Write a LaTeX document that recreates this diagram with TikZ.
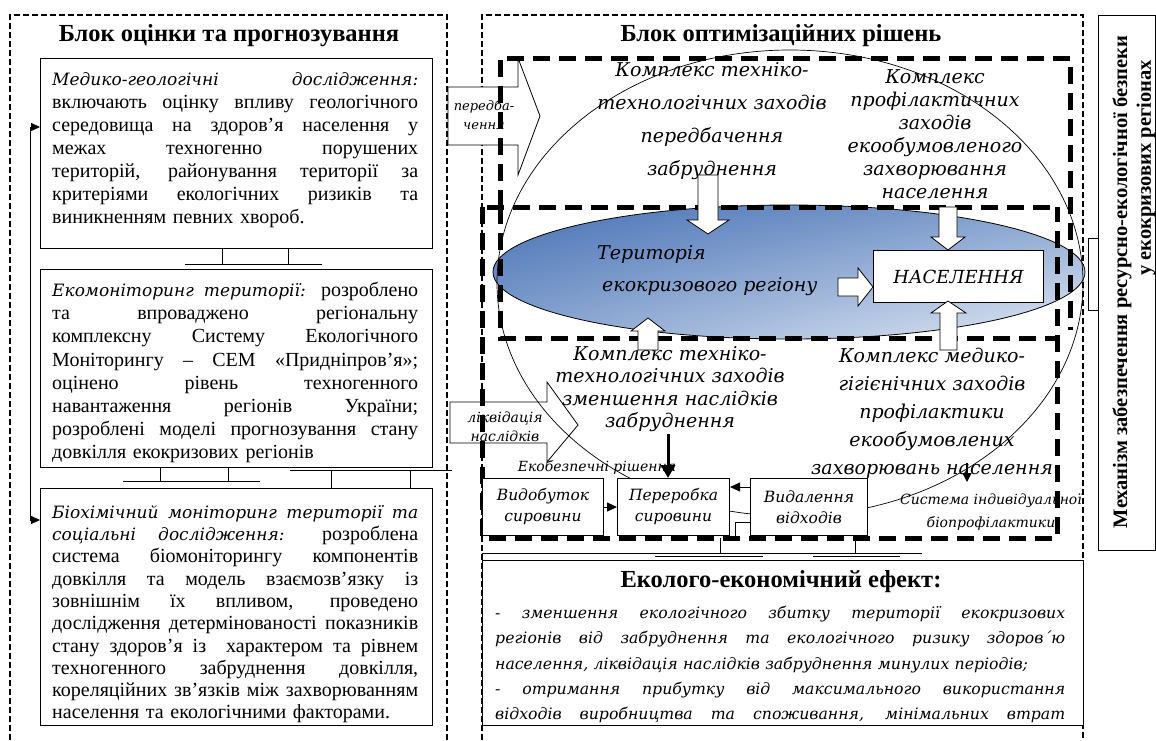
\documentclass[tikz,border=0pt]{standalone}
\usepackage{fontspec}
\setmainfont{Liberation Serif}
\newfontfamily\dvi{DejaVu Serif}
\usetikzlibrary{arrows.meta,shadings}
\definecolor{bdark}{RGB}{70,112,180}
\definecolor{bmid}{RGB}{135,164,208}
\definecolor{blight}{RGB}{228,234,245}
\newcommand\fs[2]{\fontsize{#1}{#2}\selectfont}
\newcommand\jline[2]{{\spaceskip=0pt\xspaceskip=0pt\makebox[#1][s]{#2}}}
\newcommand\myit[1]{{\dvi\itshape\fontsize{17}{23}\selectfont #1}}
\begin{document}
\begin{tikzpicture}[x=1pt,y=-1pt,
  fdash/.style={line width=1.5pt,dash pattern=on 6pt off 3pt},
  hdash/.style={line width=5pt,dash pattern=on 17pt off 9pt},
  sbox/.style={draw,line width=1pt,fill=white,inner sep=0pt,anchor=north west},
  btext/.style={anchor=north west,inner sep=0pt,text width=366pt,align=left},
  ctext/.style={align=center,inner sep=0pt},
  barrow/.style={draw,line width=0.8pt,fill=white,line join=miter},
  thinl/.style={line width=0.8pt},
  title/.style={font=\bfseries\fs{24.5}{27},inner sep=0pt},
  tip/.style={-{Triangle[width=9pt,length=10pt]}}]
\useasboundingbox (0,0) rectangle (1156,740);
\fill[white] (0,0) rectangle (1156,740);

% ---------- left block ----------
\draw[fdash] (10,740) -- (10,15) -- (447,15) -- (447,740);
\node[title] (t1) at (229,36) {Блок оцінки та прогнозування};
\node[sbox,minimum width=392pt,minimum height=190pt] (b1) at (40,58) {};
\node[sbox,minimum width=392pt,minimum height=198pt] (b2) at (40,269) {};
\node[sbox,minimum width=392pt,minimum height=237pt] (b3) at (40,488) {};

\node[btext,font=\fs{20}{23}] (b1t) at (52,72) {%
\jline{366pt}{\myit{Медико-геологічні} \myit{дослідження:}}\\
\jline{366pt}{включають оцінку впливу геологічного}\\
\jline{366pt}{середовища на здоров’я населення у}\\
\jline{366pt}{межах техногенно порушених}\\
\jline{366pt}{територій, районування території за}\\
\jline{366pt}{критеріями екологічних ризиків та}\\
виникненням певних хвороб.};

\node[btext,font=\fs{20}{23.2}] (b2t) at (52,282) {%
\jline{366pt}{\myit{Екомоніторинг території:} розроблено}\\
\jline{366pt}{та впроваджено регіональну}\\
\jline{366pt}{комплексну Систему Екологічного}\\
\jline{366pt}{Моніторингу – СЕМ «Придніпров’я»;}\\
\jline{366pt}{оцінено рівень техногенного}\\
\jline{366pt}{навантаження регіонів України;}\\
\jline{366pt}{розроблені моделі прогнозування стану}\\
довкілля екокризових регіонів};

\node[btext,font=\fs{20}{22.3}] (b3t) at (52,505) {%
\jline{366pt}{\myit{Біохімічний моніторинг території та}}\\
\jline{366pt}{\myit{соціальні дослідження:} розроблена}\\
\jline{366pt}{система біомоніторингу компонентів}\\
\jline{366pt}{довкілля та модель взаємозв'язку із}\\
\jline{366pt}{зовнішнім їх впливом, проведено}\\
\jline{366pt}{дослідження детермінованості показників}\\
\jline{366pt}{стану здоров'я із\ \ характером та рівнем}\\
\jline{366pt}{техногенного забруднення довкілля,}\\
\jline{366pt}{кореляційних зв’язків між захворюванням}\\
населення та екологічними факторами.};

% small bracket connectors
\draw[thinl] (222,248) -- (222,264) (288,248) -- (288,264) (185,264) -- (322,264);
\draw[thinl] (160,467) -- (160,481) (228,467) -- (228,481) (123,481) -- (260,481);
\draw[thinl] (290,470) -- (452,470) (331,470) -- (331,488) (410,470) -- (410,488);

% left feedback line
\coordinate (la) at (30,127);
\coordinate (lb) at (30,520);
\draw[thinl,{Triangle[width=8pt,length=9pt]}-{Triangle[width=8pt,length=9pt]}]
  (b1.west |- la) -- (la) -- (lb) -- (b3.west |- lb);

% ---------- right block ----------
\draw[fdash] (482,740) -- (482,15) -- (1083,15) -- (1083,740);
\node[title] (t2) at (781,36) {Блок оптимізаційних рішень};

% block arrows from the left block
\draw[barrow] (448,87) -- (518,87) -- (518,58) -- (540,116) -- (518,175) -- (518,145) -- (448,145) -- cycle;
\node[ctext,font=\dvi\itshape\fs{13}{19}] (pa) at (484,115) {передба-\\чення};
\draw[barrow] (450,402) -- (547,402) -- (547,382) -- (578,425) -- (547,462) -- (547,443) -- (450,443) -- cycle;
\node[ctext,font=\dvi\itshape\fs{14}{19}] (la2) at (505,427) {ліквідація\\наслідків};

% territory ellipse
\shadedraw[thinl,upper left=bdark,upper right=bmid,lower left=bmid,lower right=blight]
  (789,272) ellipse [x radius=296pt,y radius=67pt];

% heavy dashed frames
\draw[hdash] (500,207) -- (500,58) -- (1070,58) -- (1070,330);
\draw[hdash] (487,207) -- (1057,207);
\draw[hdash] (500,207) -- (500,338) -- (1057,338);
\draw[hdash] (482,207) -- (482,538) -- (1057,538) -- (1057,207);

% big thin ellipse
\draw[line width=0.7pt] (790,283) ellipse [x radius=293pt,y radius=233pt];

% complex texts
\node[ctext,font=\dvi\itshape\fs{19}{33}] (c1) at (712,121) {Комплекс техніко-\\технологічних заходів\\передбачення\\забруднення};
\node[ctext,font=\dvi\itshape\fs{19}{23}] (c2) at (935,134) {Комплекс\\профілактичних\\заходів\\екообумовленого\\захворювання\\населення};
\node[ctext,font=\dvi\itshape\fs{19}{22.5}] (c3) at (670,389) {Комплекс техніко-\\технологічних заходів\\зменшення наслідків\\забруднення};
\node[ctext,font=\dvi\itshape\fs{19}{28}] (c4) at (932,413) {Комплекс медико-\\гігієнічних заходів\\профілактики\\екообумовлених\\захворювань населення};

% territory text, population box
\node[anchor=west,align=left,inner sep=0pt,font=\dvi\itshape\fs{19}{32}] (ter) at (597,271) {Територія\\\hspace*{5pt}екокризового регіону};
\node[sbox,minimum width=170pt,minimum height=52pt,font=\dvi\itshape\fs{18}{20}] (nas) at (873,250) {НАСЕЛЕННЯ};

% hollow block arrows
\draw[barrow] (698,175) -- (718,175) -- (718,220) -- (729,220) -- (708,234) -- (687,220) -- (698,220) -- cycle;
\draw[barrow] (939,207) -- (957,207) -- (957,237) -- (965,237) -- (948,250) -- (931,237) -- (939,237) -- cycle;
\draw[barrow] (638,350) -- (658,350) -- (658,331) -- (665,331) -- (648,318) -- (631,331) -- (638,331) -- cycle;
\draw[barrow] (940,350) -- (957,350) -- (957,313) -- (966,313) -- (948,301) -- (931,313) -- (940,313) -- cycle;
\draw[barrow] (838,278) -- (858,278) -- (858,268) -- (873,287) -- (858,306) -- (858,296) -- (838,296) -- cycle;

% process chain
\node[ctext,font=\dvi\itshape\fs{14}{16}] (eb) at (597,467) {Екобезпечні рішення};
\node[sbox,minimum width=121pt,minimum height=57pt,align=center,font=\dvi\itshape\fs{15.5}{21}] (p1) at (482,478) {Видобуток\\сировини};
\node[sbox,minimum width=112pt,minimum height=57pt,align=center,font=\dvi\itshape\fs{15.5}{21}] (p2) at (617,478) {Переробка\\сировини};
\node[sbox,minimum width=117pt,minimum height=57pt,align=center,font=\dvi\itshape\fs{15.5}{21}] (p3) at (750,478) {Видалення\\відходів};
\coordinate (cy) at (740,487);
\coordinate (ce) at (735,522);
\draw[thinl,tip] (p1.east) -- (p2.west |- p1.east);
\draw[thinl,tip] (p3.west |- cy) -- (p2.east |- cy);
\draw[thinl] (p3.west |- ce) -- (ce) -- (ce |- p2.south);
\coordinate (za) at (668,434);
\draw[line width=3pt,-{Triangle[width=14pt,length=13pt]}] (za) -- (za |- p2.north);
\coordinate (sa) at (967,463);
\draw[line width=1.5pt,-{Triangle[width=9pt,length=9pt]}] (sa) -- (967,482);
\node[ctext,font=\dvi\itshape\fs{14}{23}] (sys) at (991,512) {Система індивідуальної\\біопрофілактики};

% connectors to effect box
\draw[thinl] (482,553) -- (922,553) (720,538) -- (720,553) (855,538) -- (855,553)
  (655,556) -- (763,556) (813,556) -- (900,556);

% effect box
\node[sbox,minimum width=601pt,minimum height=165pt] (ef) at (482,560) {};
\node[title] (eft) at (781,582) {Еколого-економічний ефект:};
\node[anchor=north west,inner sep=0pt,text width=570pt,align=left,font=\dvi\itshape\fs{15.7}{25.3}] (efx) at (495,606) {%
\jline{570pt}{- зменшення екологічного збитку території екокризових}\\
\jline{570pt}{регіонів від забруднення та екологічного ризику здоров´ю}\\
населення, ліквідація наслідків забруднення минулих періодів;\\
\jline{570pt}{- отримання прибутку від максимального використання}\\
\jline{570pt}{відходів виробництва та споживання, мінімальних втрат}};

% ---------- right vertical box ----------
\node[sbox,minimum width=10pt,minimum height=72pt] (sr) at (1088,238) {};
\node[sbox,minimum width=57pt,minimum height=535pt] (mb) at (1098,15) {};
\node[rotate=90,inner sep=0pt,font=\bfseries\fs{20.5}{22}] (mt1) at (1122,282) {Механізм забезпечення ресурсно-екологічної безпеки};
\node[rotate=90,inner sep=0pt,font=\bfseries\fs{20.5}{22}] (mt2) at (1146,168) {у екокризових регіонах};
\end{tikzpicture}
\end{document}
